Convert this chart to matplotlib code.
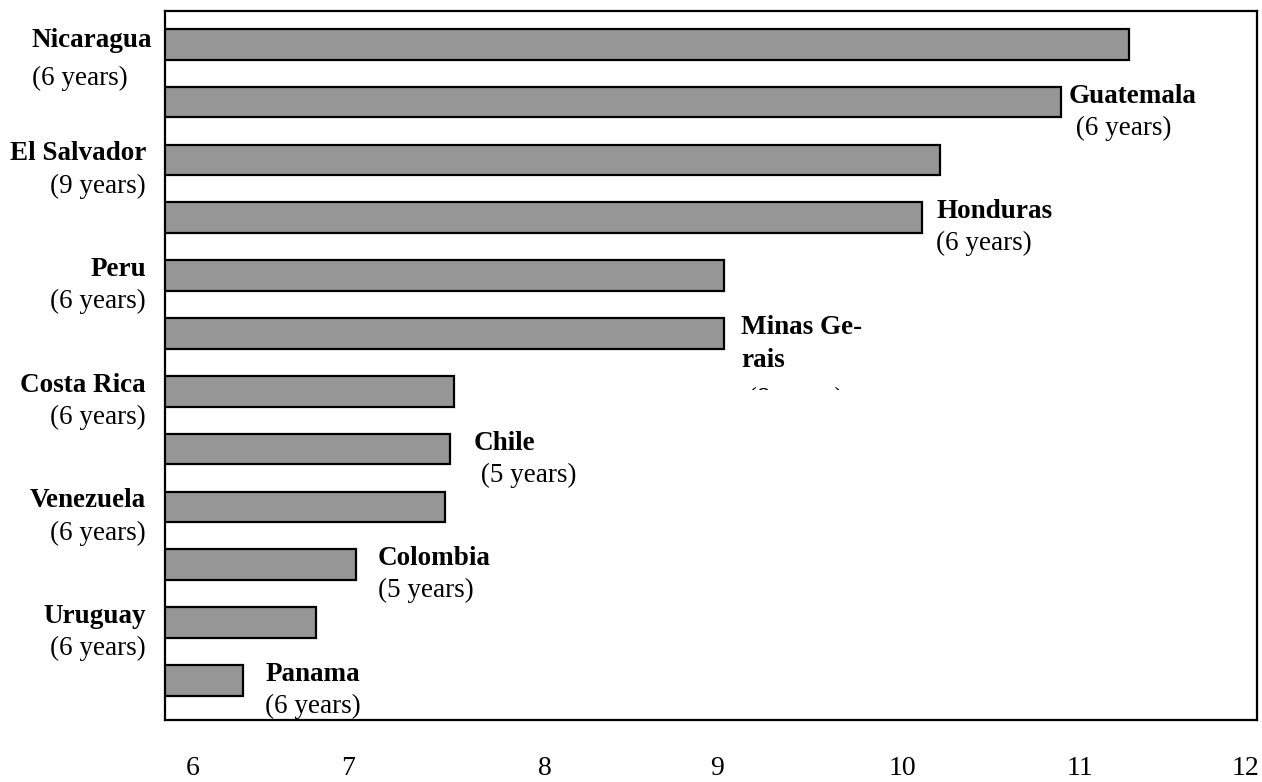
import matplotlib
matplotlib.use('Agg')
import matplotlib.pyplot as plt
from matplotlib.transforms import Bbox, TransformedBbox, ScaledTranslation

plt.rcParams['font.family'] = ['Liberation Serif', 'DejaVu Serif']

# data
countries = ['Nicaragua', 'Guatemala', 'El Salvador', 'Honduras', 'Peru', 'Minas Gerais',
             'Costa Rica', 'Chile', 'Venezuela', 'Colombia', 'Uruguay', 'Panama']
values = [11.30, 10.92, 10.24, 10.14, 9.03, 9.03, 7.51, 7.49, 7.46, 6.96, 6.74, 6.33]
years = [6, 6, 9, 6, 6, 8, 6, 5, 6, 5, 6, 6]
xticks = [6, 7, 8, 9, 10, 11, 12]

W, H = 1262, 782
fig = plt.figure(figsize=(W / 100, H / 100), dpi=100)
ax = fig.add_axes([165 / W, 1 - 720 / H, (1257 - 165) / W, (720 - 11) / H])

pos = list(range(len(countries)))
ax.barh(pos, values, height=0.53, color='#969696', edgecolor='black', linewidth=1.6)
ax.set_xlim(5.89, 12.02)
ax.set_ylim(11.684, -0.576)
ax.set_yticks([])
ax.set_xticks(xticks)
ax.tick_params(axis='x', length=0, pad=26, labelsize=20)
for s in ax.spines.values():
    s.set_linewidth(1.6)

# the tick labels in the reference sit a little off the even grid
tick_shift = [8, -15, 4, -2, 5, 5, -8]
for lab, dx in zip(ax.get_xticklabels(), tick_shift):
    lab.set_transform(lab.get_transform() + ScaledTranslation(dx / 100, 0, fig.dpi_scale_trans))

# label placement (pixels)
right_gap = {1: 8, 3: 14, 5: 17, 7: 24, 9: 22, 11: 22}
space_before = {1, 5, 7}
FS = 19.5


def put(txt, xy, xycoords, dx, dy, ha, bold):
    return ax.annotate(txt, xy=xy, xycoords=xycoords, xytext=(dx, dy),
                       textcoords='offset pixels', ha=ha, va='center',
                       fontsize=FS, fontweight='bold' if bold else 'normal',
                       annotation_clip=False)


for i, (name, v, n) in enumerate(zip(countries, values, years)):
    yrs = f'({n} years)'
    if i % 2 == 0:
        xc = ('axes fraction', 'data')
        if i == 0:
            put(name, (0, i), xc, -133, 4, 'left', True)
            put(yrs, (0, i), xc, -133, -34, 'left', False)
        else:
            put(name, (0, i), xc, -19, 6, 'right', True)
            put(yrs, (0, i), xc, -19, -26, 'right', False)
    else:
        g = right_gap[i]
        if i in space_before:
            yrs = ' ' + yrs
        if name == 'Minas Gerais':
            put('Minas Ge-', (v, i), 'data', g, 6, 'left', True)
            put('rais', (v, i), 'data', g, -27, 'left', True)
            t = put(yrs, (v, i), 'data', g, -66, 'left', False)
            t.set_clip_box(TransformedBbox(Bbox.from_extents(0, 1 - 390 / H, 1, 1),
                                           fig.transFigure))
            t.set_clip_on(True)
        else:
            put(name, (v, i), 'data', g, 6, 'left', True)
            put(yrs, (v, i), 'data', g, -26, 'left', False)

fig.savefig('out.png', dpi=100)
